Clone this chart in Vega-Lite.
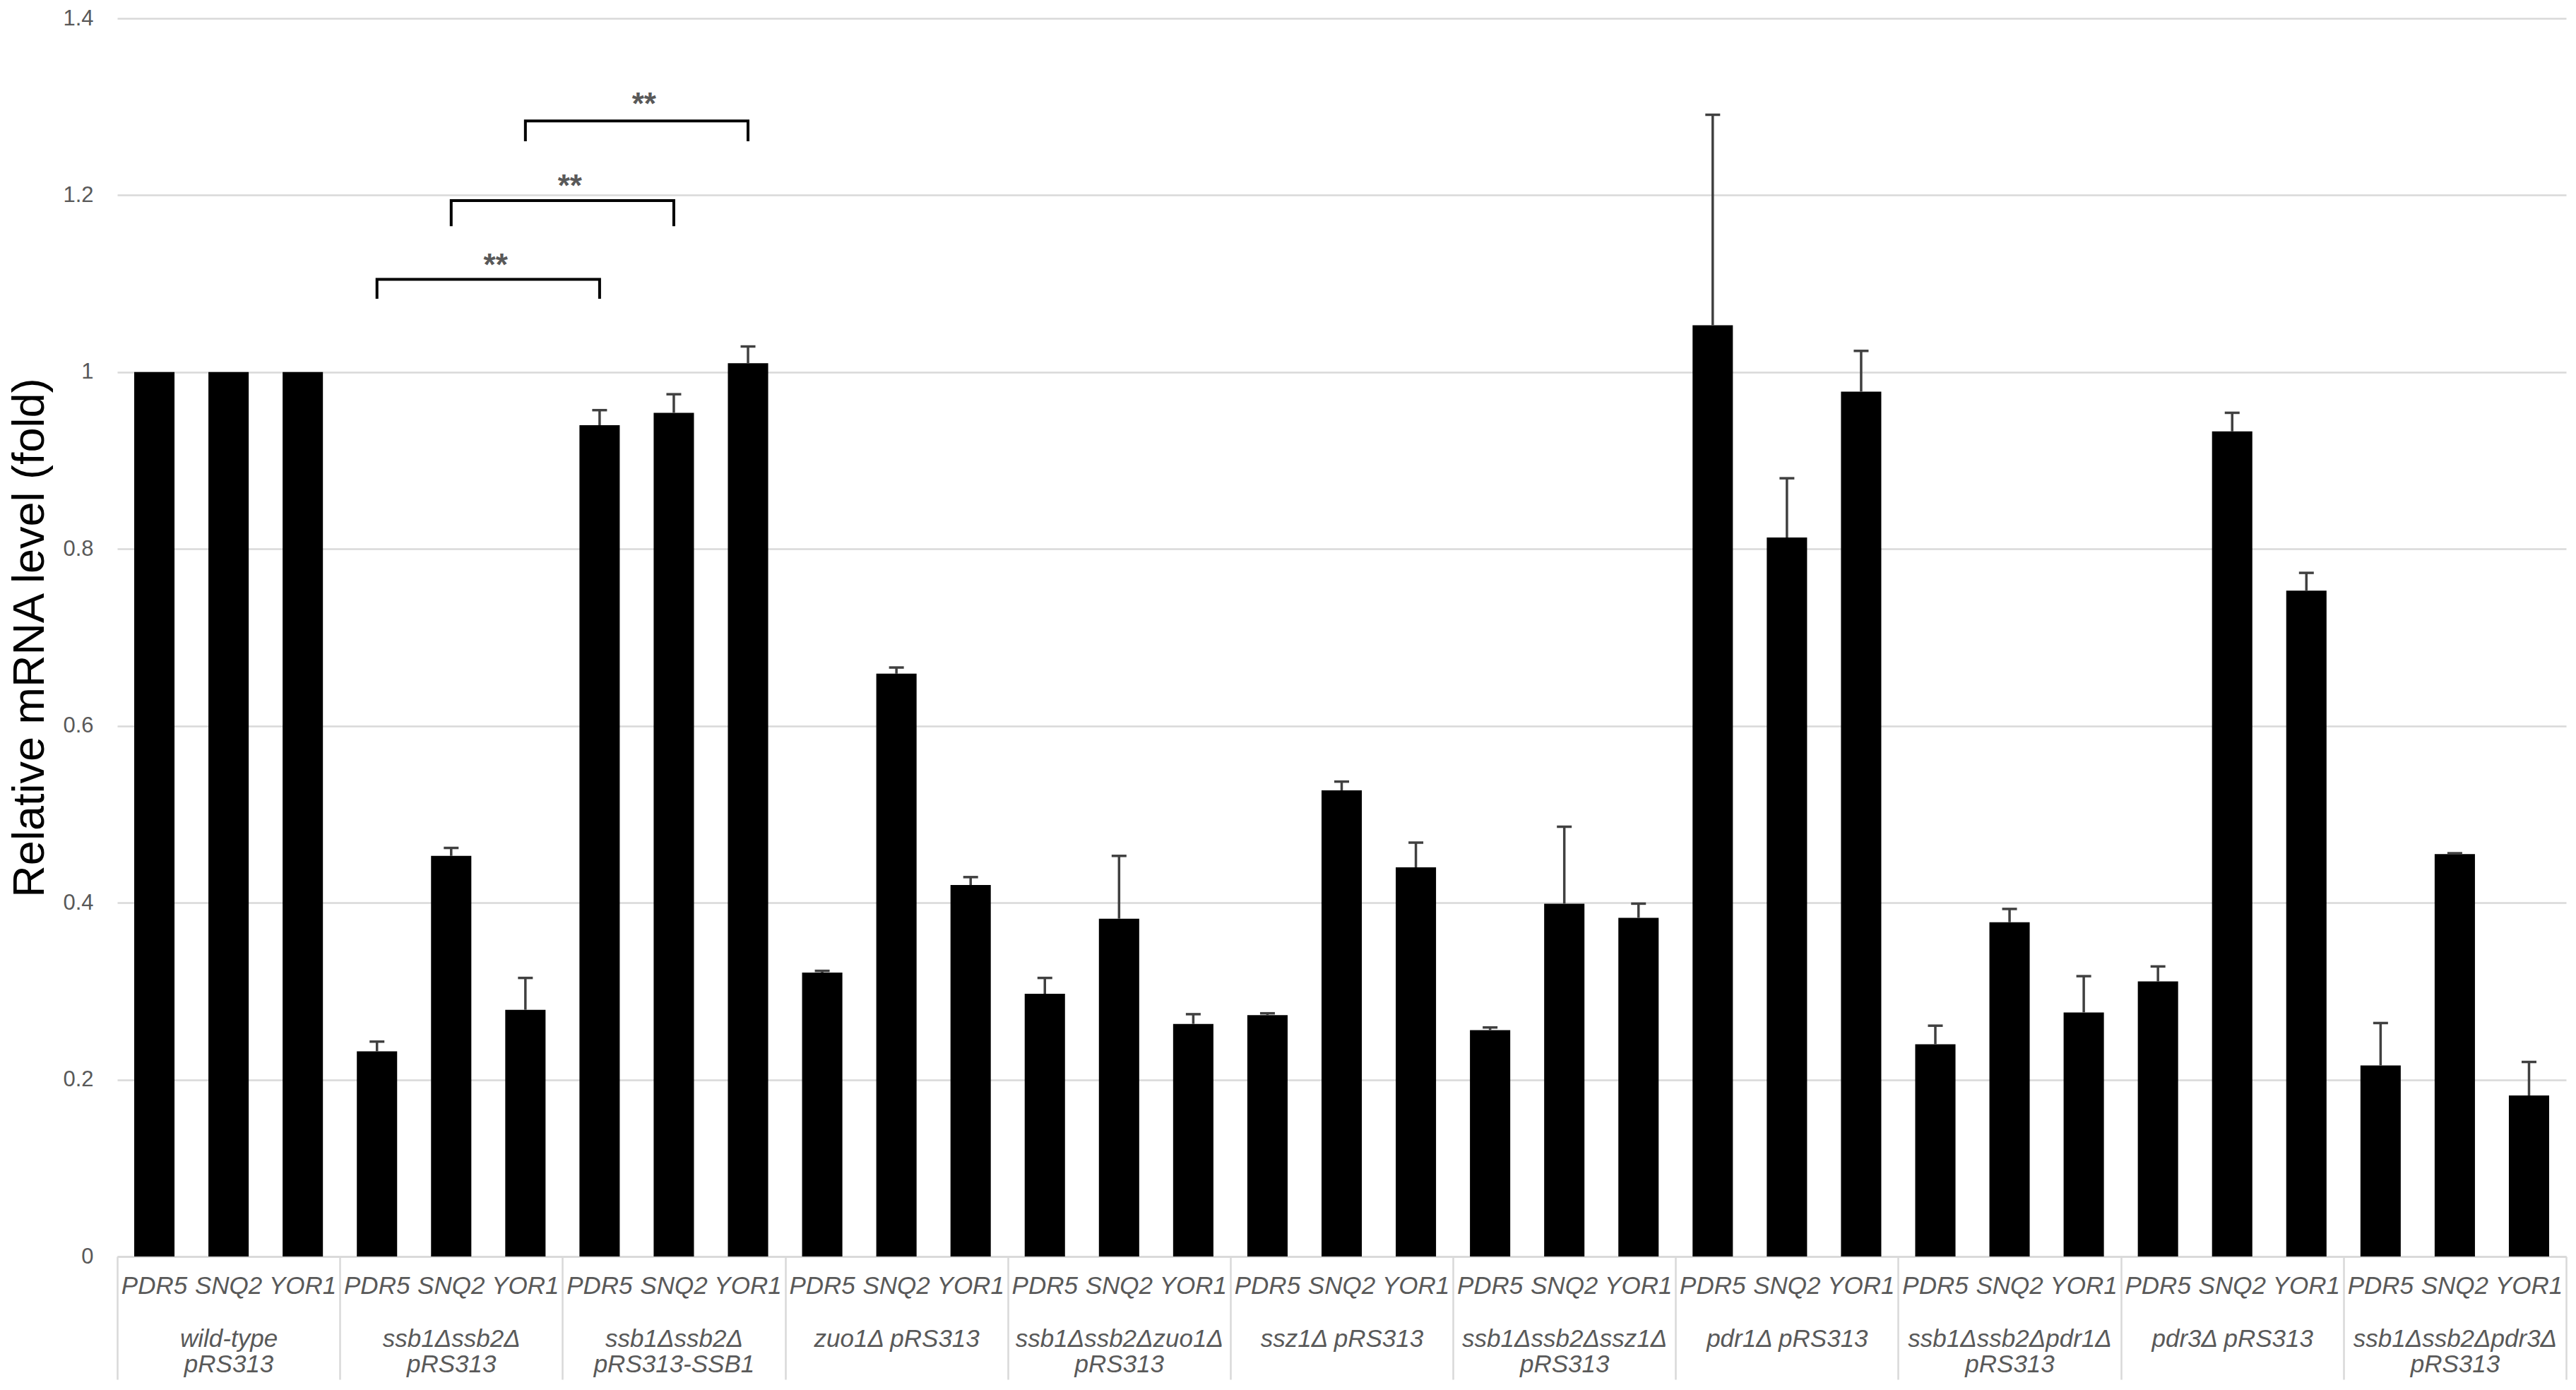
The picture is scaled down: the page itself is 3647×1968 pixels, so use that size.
{
  "$schema": "https://vega.github.io/schema/vega-lite/v6.json",
  "autosize": {"type": "none"},
  "padding": {"left": 166, "top": 26, "right": 14, "bottom": 189},
  "width": 3467,
  "height": 1753,
  "background": "white",
  "view": {"stroke": null},
  "datasets": {
    "bars": [
      {"group": "wild-type pRS313", "gene": "PDR5", "value": 1.0, "upper": null},
      {"group": "wild-type pRS313", "gene": "SNQ2", "value": 1.0, "upper": null},
      {"group": "wild-type pRS313", "gene": "YOR1", "value": 1.0, "upper": null},
      {"group": "ssb1Δssb2Δ pRS313", "gene": "PDR5", "value": 0.232, "upper": 0.243},
      {"group": "ssb1Δssb2Δ pRS313", "gene": "SNQ2", "value": 0.453, "upper": 0.462},
      {"group": "ssb1Δssb2Δ pRS313", "gene": "YOR1", "value": 0.279, "upper": 0.315},
      {"group": "ssb1Δssb2Δ pRS313-SSB1", "gene": "PDR5", "value": 0.940, "upper": 0.957},
      {"group": "ssb1Δssb2Δ pRS313-SSB1", "gene": "SNQ2", "value": 0.954, "upper": 0.975},
      {"group": "ssb1Δssb2Δ pRS313-SSB1", "gene": "YOR1", "value": 1.010, "upper": 1.029},
      {"group": "zuo1Δ pRS313", "gene": "PDR5", "value": 0.321, "upper": 0.323},
      {"group": "zuo1Δ pRS313", "gene": "SNQ2", "value": 0.659, "upper": 0.666},
      {"group": "zuo1Δ pRS313", "gene": "YOR1", "value": 0.420, "upper": 0.429},
      {"group": "ssb1Δssb2Δzuo1Δ pRS313", "gene": "PDR5", "value": 0.297, "upper": 0.315},
      {"group": "ssb1Δssb2Δzuo1Δ pRS313", "gene": "SNQ2", "value": 0.382, "upper": 0.453},
      {"group": "ssb1Δssb2Δzuo1Δ pRS313", "gene": "YOR1", "value": 0.263, "upper": 0.274},
      {"group": "ssz1Δ pRS313", "gene": "PDR5", "value": 0.273, "upper": 0.275},
      {"group": "ssz1Δ pRS313", "gene": "SNQ2", "value": 0.527, "upper": 0.537},
      {"group": "ssz1Δ pRS313", "gene": "YOR1", "value": 0.440, "upper": 0.468},
      {"group": "ssb1Δssb2Δssz1Δ pRS313", "gene": "PDR5", "value": 0.256, "upper": 0.259},
      {"group": "ssb1Δssb2Δssz1Δ pRS313", "gene": "SNQ2", "value": 0.399, "upper": 0.486},
      {"group": "ssb1Δssb2Δssz1Δ pRS313", "gene": "YOR1", "value": 0.383, "upper": 0.399},
      {"group": "pdr1Δ pRS313", "gene": "PDR5", "value": 1.053, "upper": 1.291},
      {"group": "pdr1Δ pRS313", "gene": "SNQ2", "value": 0.813, "upper": 0.880},
      {"group": "pdr1Δ pRS313", "gene": "YOR1", "value": 0.978, "upper": 1.024},
      {"group": "ssb1Δssb2Δpdr1Δ pRS313", "gene": "PDR5", "value": 0.240, "upper": 0.261},
      {"group": "ssb1Δssb2Δpdr1Δ pRS313", "gene": "SNQ2", "value": 0.378, "upper": 0.393},
      {"group": "ssb1Δssb2Δpdr1Δ pRS313", "gene": "YOR1", "value": 0.276, "upper": 0.317},
      {"group": "pdr3Δ pRS313", "gene": "PDR5", "value": 0.311, "upper": 0.328},
      {"group": "pdr3Δ pRS313", "gene": "SNQ2", "value": 0.933, "upper": 0.954},
      {"group": "pdr3Δ pRS313", "gene": "YOR1", "value": 0.753, "upper": 0.773},
      {"group": "ssb1Δssb2Δpdr3Δ pRS313", "gene": "PDR5", "value": 0.216, "upper": 0.264},
      {"group": "ssb1Δssb2Δpdr3Δ pRS313", "gene": "SNQ2", "value": 0.455, "upper": 0.456},
      {"group": "ssb1Δssb2Δpdr3Δ pRS313", "gene": "YOR1", "value": 0.182, "upper": 0.220}
    ],
    "brackets": [
      {"bracket": 1, "ord": 1, "group": "ssb1Δssb2Δ pRS313", "gene": "PDR5", "y": 1.083},
      {"bracket": 1, "ord": 2, "group": "ssb1Δssb2Δ pRS313", "gene": "PDR5", "y": 1.105},
      {"bracket": 1, "ord": 3, "group": "ssb1Δssb2Δ pRS313-SSB1", "gene": "PDR5", "y": 1.105},
      {"bracket": 1, "ord": 4, "group": "ssb1Δssb2Δ pRS313-SSB1", "gene": "PDR5", "y": 1.083},
      {"bracket": 2, "ord": 1, "group": "ssb1Δssb2Δ pRS313", "gene": "SNQ2", "y": 1.165},
      {"bracket": 2, "ord": 2, "group": "ssb1Δssb2Δ pRS313", "gene": "SNQ2", "y": 1.194},
      {"bracket": 2, "ord": 3, "group": "ssb1Δssb2Δ pRS313-SSB1", "gene": "SNQ2", "y": 1.194},
      {"bracket": 2, "ord": 4, "group": "ssb1Δssb2Δ pRS313-SSB1", "gene": "SNQ2", "y": 1.165},
      {"bracket": 3, "ord": 1, "group": "ssb1Δssb2Δ pRS313", "gene": "YOR1", "y": 1.261},
      {"bracket": 3, "ord": 2, "group": "ssb1Δssb2Δ pRS313", "gene": "YOR1", "y": 1.284},
      {"bracket": 3, "ord": 3, "group": "ssb1Δssb2Δ pRS313-SSB1", "gene": "YOR1", "y": 1.284},
      {"bracket": 3, "ord": 4, "group": "ssb1Δssb2Δ pRS313-SSB1", "gene": "YOR1", "y": 1.261}
    ],
    "stars": [
      {"group": "ssb1Δssb2Δ pRS313", "gene": "PDR5", "star_y": 1.109, "label": "**"},
      {"group": "ssb1Δssb2Δ pRS313", "gene": "SNQ2", "star_y": 1.199, "label": "**"},
      {"group": "ssb1Δssb2Δ pRS313", "gene": "YOR1", "star_y": 1.291, "label": "**"}
    ]
  },
  "encoding": {
    "x": {
      "field": "group",
      "type": "nominal",
      "scale": {
        "domain": ["wild-type pRS313", "ssb1Δssb2Δ pRS313", "ssb1Δssb2Δ pRS313-SSB1", "zuo1Δ pRS313", "ssb1Δssb2Δzuo1Δ pRS313", "ssz1Δ pRS313", "ssb1Δssb2Δssz1Δ pRS313", "pdr1Δ pRS313", "ssb1Δssb2Δpdr1Δ pRS313", "pdr3Δ pRS313", "ssb1Δssb2Δpdr3Δ pRS313"],
        "paddingInner": 0,
        "paddingOuter": 0
      },
      "axis": {
        "orient": "bottom",
        "title": null,
        "grid": false,
        "tickBand": "extent",
        "tickSize": 174,
        "tickColor": "#d9d9d9",
        "tickWidth": 2.5,
        "domainColor": "#d9d9d9",
        "domainWidth": 2.5,
        "labelPadding": -75,
        "labelAngle": 0,
        "labelFont": "Liberation Sans",
        "labelFontStyle": "italic",
        "labelFontSize": 35,
        "labelColor": "#595959",
        "labelBaseline": "top",
        "labelLineHeight": 36,
        "labelLimit": 600,
        "labelOverlap": false,
        "labelExpr": "length(datum.label) > 13 ? split(datum.label, ' ') : datum.label"
      }
    },
    "xOffset": {
      "field": "gene",
      "type": "nominal",
      "scale": {"domain": ["PDR5", "SNQ2", "YOR1"], "paddingInner": 0.457, "paddingOuter": 0.2285}
    }
  },
  "layer": [
    {
      "data": {"name": "bars"},
      "mark": {"type": "bar", "fill": "#000000"},
      "encoding": {
        "y": {
          "field": "value",
          "type": "quantitative",
          "scale": {"domain": [0, 1.4], "nice": false, "zero": true},
          "axis": {
            "title": "Relative mRNA level (fold)",
            "values": [0, 0.2, 0.4, 0.6, 0.8, 1, 1.2, 1.4],
            "format": "~g",
            "grid": true,
            "gridColor": "#d9d9d9",
            "gridWidth": 2.5,
            "domain": false,
            "ticks": false,
            "labelPadding": 34,
            "labelFont": "Liberation Sans",
            "labelFontSize": 31,
            "labelColor": "#595959",
            "titleFont": "Liberation Sans",
            "titleFontSize": 63,
            "titleFontWeight": "normal",
            "titleColor": "#000000",
            "titleAngle": 270,
            "titleAlign": "center",
            "titleBaseline": "middle",
            "titleX": -124
          }
        }
      }
    },
    {
      "data": {"name": "bars"},
      "transform": [{"filter": "datum.upper != null"}],
      "mark": {"type": "rule", "stroke": "#404040", "strokeWidth": 3.5},
      "encoding": {
        "y": {"field": "value", "type": "quantitative"},
        "y2": {"field": "upper"}
      }
    },
    {
      "data": {"name": "bars"},
      "transform": [{"filter": "datum.upper != null"}],
      "mark": {"type": "tick", "orient": "horizontal", "color": "#404040", "size": 21, "thickness": 3.5, "opacity": 1},
      "encoding": {
        "y": {"field": "upper", "type": "quantitative"}
      }
    },
    {
      "data": {"name": "bars"},
      "mark": {"type": "text", "font": "Liberation Sans", "fontStyle": "italic", "fontSize": 35, "fill": "#595959", "baseline": "middle", "align": "center"},
      "encoding": {
        "y": {"datum": -0.0335, "type": "quantitative"},
        "text": {"field": "gene"}
      }
    },
    {
      "data": {"name": "brackets"},
      "mark": {"type": "line", "stroke": "#000000", "strokeWidth": 4, "strokeCap": "butt", "strokeJoin": "miter"},
      "encoding": {
        "y": {"field": "y", "type": "quantitative"},
        "detail": {"field": "bracket"},
        "order": {"field": "ord"}
      }
    },
    {
      "data": {"name": "stars"},
      "mark": {"type": "text", "font": "Liberation Sans", "fontSize": 44, "fontWeight": "bold", "fill": "#595959", "baseline": "alphabetic", "align": "center", "dx": 168},
      "encoding": {
        "y": {"field": "star_y", "type": "quantitative"},
        "text": {"field": "label"}
      }
    }
  ]
}
